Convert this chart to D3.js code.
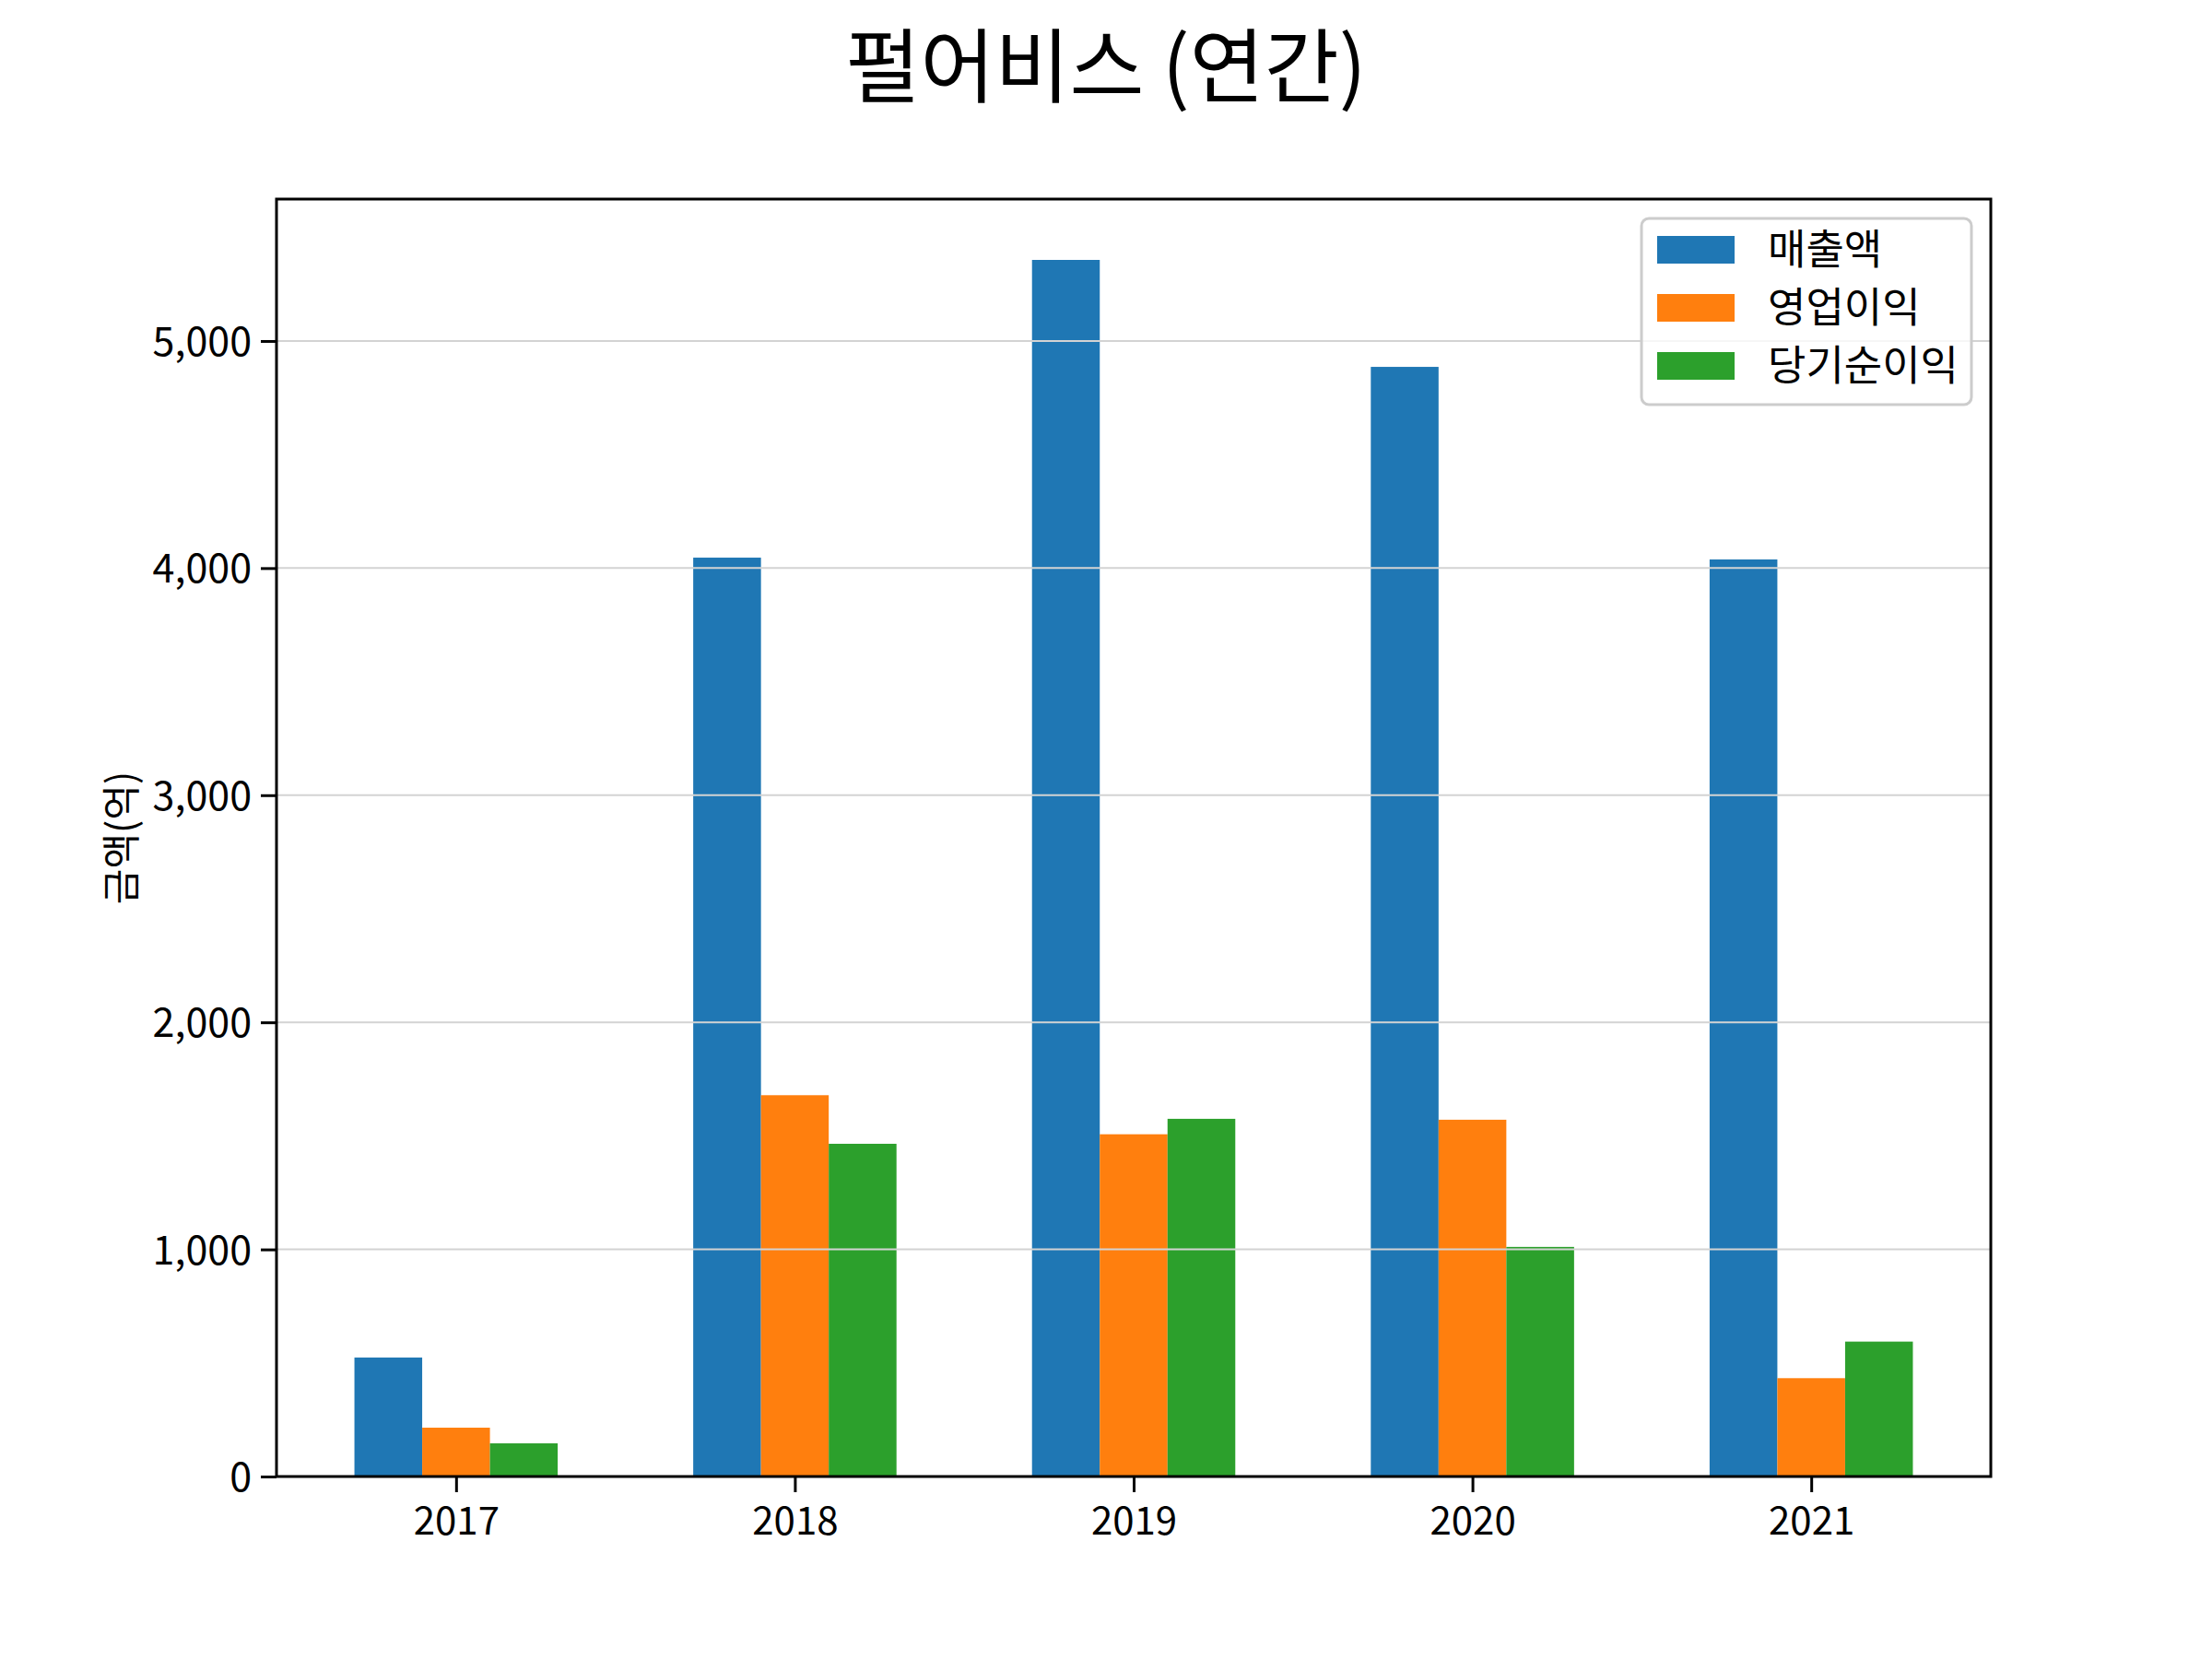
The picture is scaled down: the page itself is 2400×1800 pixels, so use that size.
<!DOCTYPE html>
<html>
<head>
<meta charset="utf-8">
<script src="https://cdn.jsdelivr.net/npm/d3@7"></script>
<style>
  html, body { margin: 0; padding: 0; background: #fff; }
  svg { display: block; }
  text { font-family: "Noto Sans CJK KR", "Noto Sans", sans-serif; fill: #000; }
</style>
</head>
<body>
<svg id="chart" width="2400" height="1800"></svg>
<script>
const title = "펄어비스 (연간)";
const yLabel = "금액(억)";
const years = ["2017", "2018", "2019", "2020", "2021"];
const seriesNames = ["매출액", "영업이익", "당기순이익"];
const seriesColors = ["#1f77b4", "#ff7f0e", "#2ca02c"];
const sales = [524, 4046, 5357, 4886, 4038];
const operatingProfit = [215, 1679, 1507, 1571, 433];
const netProfit = [146, 1465, 1575, 1011, 594];
const yTicks = [0, 1000, 2000, 3000, 4000, 5000];

const seriesValues = [sales, operatingProfit, netProfit];

const W = 2400, H = 1800;
const pL = 300, pR = 2160, pT = 216, pB = 1602;
const barW = 0.2;

const svg = d3.select("#chart");
svg.append("rect").attr("width", W).attr("height", H).attr("fill", "#fff");

const allVals = seriesValues.flat();
const ymax = d3.max(allVals) * 1.05;
const xmin = -1.5 * barW, xmax = years.length - 1 + 1.5 * barW;
const xpad = (xmax - xmin) * 0.05;

const x = d3.scaleLinear().domain([xmin - xpad, xmax + xpad]).range([pL, pR]);
const y = d3.scaleLinear().domain([0, ymax]).range([pB, pT]);

// bars
seriesValues.forEach((vals, si) => {
  svg.append("g").selectAll("rect").data(vals).join("rect")
    .attr("x", (d, i) => x(i + (si - 1) * barW - barW / 2))
    .attr("width", (d, i) => x(i + (si - 1) * barW + barW / 2) - x(i + (si - 1) * barW - barW / 2))
    .attr("y", d => y(d))
    .attr("height", d => y(0) - y(d))
    .attr("fill", seriesColors[si]);
});

// gridlines (drawn above bars)
svg.append("g").selectAll("line").data(yTicks.filter(t => t > 0)).join("line")
  .attr("x1", pL).attr("x2", pR)
  .attr("y1", d => y(d)).attr("y2", d => y(d))
  .attr("stroke", "#d3d3d3").attr("stroke-width", 2);

// axes
const yAxis = d3.axisLeft(y).tickValues(yTicks).tickFormat(d3.format(",")).tickSize(17).tickPadding(10);
const gy = svg.append("g").attr("transform", `translate(${pL},0)`).call(yAxis);
gy.select(".domain").remove();
gy.selectAll(".tick line").attr("stroke", "#000").attr("stroke-width", 3);
gy.selectAll(".tick text").attr("font-size", 43).attr("font-family", '"Noto Sans CJK KR", sans-serif').attr("dy", "0.36em");

const xAxis = d3.axisBottom(x).tickValues(d3.range(years.length)).tickFormat(i => years[i]).tickSize(17).tickPadding(16);
const gx = svg.append("g").attr("transform", `translate(0,${pB})`).call(xAxis);
gx.select(".domain").remove();
gx.selectAll(".tick line").attr("stroke", "#000").attr("stroke-width", 3);
gx.selectAll(".tick text").attr("font-size", 42).attr("font-family", '"Noto Sans CJK KR", sans-serif');

// frame
svg.append("rect").attr("x", pL).attr("y", pT).attr("width", pR - pL).attr("height", pB - pT)
  .attr("fill", "none").attr("stroke", "#000").attr("stroke-width", 3);

// title
svg.append("text").attr("x", W / 2).attr("y", 104).attr("text-anchor", "middle")
  .attr("font-size", 88).text(title);

// y label
svg.append("text").attr("transform", `translate(132,${(pT + pB) / 2}) rotate(-90)`)
  .attr("text-anchor", "middle").attr("dy", "0.35em").attr("font-size", 42).text(yLabel);

// legend
const lg = svg.append("g");
lg.append("rect").attr("x", 1781).attr("y", 237).attr("width", 358).attr("height", 202).attr("rx", 8)
  .attr("fill", "#fff").attr("fill-opacity", 0.8).attr("stroke", "#cccccc").attr("stroke-width", 3);
const rows = lg.selectAll("g.row").data(seriesNames).join("g").attr("class", "row")
  .attr("transform", (d, i) => `translate(1798,${271 + i * 63})`);
rows.append("rect").attr("x", 0).attr("y", -15).attr("width", 84).attr("height", 30)
  .attr("fill", (d, i) => seriesColors[i]);
rows.append("text").attr("x", 120).attr("dy", "0.36em").attr("font-size", 45).text(d => d);
</script>
</body>
</html>
